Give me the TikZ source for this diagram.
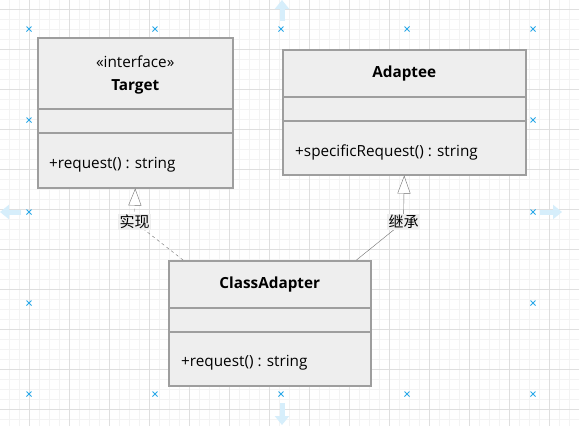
\documentclass[tikz,border=0pt]{standalone}
\usepackage{fontspec}
\setmainfont{Open Sans}
\newfontfamily\cjkfont{Noto Sans CJK SC}
\usepackage{xcolor}
\usepackage{tikz}
\usetikzlibrary{arrows.meta, calc}

\definecolor{boxfill}{HTML}{EEEEEE}
\definecolor{boxline}{HTML}{9E9E9E}
\definecolor{edgeline}{HTML}{6F6F6F}
\definecolor{gridminor}{HTML}{F3F3F3}
\definecolor{gridmajor}{HTML}{DFDFDF}
\definecolor{guide}{HTML}{29A8E8}
\definecolor{guidearrow}{HTML}{D6EEFB}

\begin{document}
\begin{tikzpicture}[x=1pt, y=-1pt,
  umlclass/.style={draw=boxline, fill=boxfill, line width=1.5pt, anchor=north west,
    minimum width=#1, inner sep=0pt},
  divider/.style={draw=boxline, line width=1.5pt},
  title/.style={font=\fontsize{15.3}{18}\selectfont\bfseries, inner sep=0pt},
  member/.style={font=\fontsize{15.3}{18}\selectfont, anchor=west, inner sep=0pt},
  edgelabel/.style={fill=boxfill, font=\cjkfont\fontsize{15}{17}\selectfont, inner sep=1.5pt},
  realize/.style={draw=edgeline, dashed, dash pattern=on 3pt off 3pt,
    -{Triangle[open, length=17pt, width=13pt, fill=white]}},
  inherit/.style={draw=edgeline, -{Triangle[open, length=18pt, width=13pt, fill=white]}},
  handle/.style={guide, line width=0.9pt},
  bigarrow/.style={guidearrow, line width=5pt, -{Triangle[length=9pt, width=14pt]}},
]
\useasboundingbox (0,0) rectangle (579,426);
\fill[white] (0,0) rectangle (579,426);

% grid
\foreach \x in {9,19,...,579} \draw[gridminor] (\x,0) -- (\x,426);
\foreach \y in {9,19,...,426} \draw[gridminor] (0,\y) -- (579,\y);
\foreach \x in {29,69,...,579} \draw[gridmajor] (\x,0) -- (\x,426);
\foreach \y in {9,49,...,426} \draw[gridmajor] (0,\y) -- (579,\y);

% guide handles and arrows
\foreach \x/\y in {29/29,155/29,281/29,407/29,533/29,29/120,533/120,29/212,533/212,
  29/303,533/303,29/394,155/394,281/394,407/394,533/394}
  \draw[handle] (\x-2.5,\y-2.5) -- (\x+2.5,\y+2.5) (\x-2.5,\y+2.5) -- (\x+2.5,\y-2.5);
\draw[bigarrow] (282,21) -- (282,0);
\draw[bigarrow] (282,403) -- (282,425);
\draw[bigarrow] (21,212) -- (0,212);
\draw[bigarrow] (540,212) -- (562,212);

% Target
\node[umlclass=195pt, minimum height=150pt] (target) at (37,37) {};
\draw[divider] ($(target.north west)+(0,72)$) -- ($(target.north east)+(0,72)$);
\draw[divider] ($(target.north west)+(0,96)$) -- ($(target.north east)+(0,96)$);
\node[member, anchor=center] (targetstereo) at ($(target.north)+(0,25)$) {«interface»};
\node[title] (targetname) at ($(target.north)+(0,50)$) {Target};
\node[member] (targetop) at ($(target.north west)+(12,128)$) {+request() : string};

% Adaptee
\node[umlclass=243pt, minimum height=125pt] (adaptee) at (282,49) {};
\draw[divider] ($(adaptee.north west)+(0,48)$) -- ($(adaptee.north east)+(0,48)$);
\draw[divider] ($(adaptee.north west)+(0,72)$) -- ($(adaptee.north east)+(0,72)$);
\node[title] (adapteename) at ($(adaptee.north)+(0,25)$) {Adaptee};
\node[member] (adapteeop) at ($(adaptee.north west)+(13,103)$) {+specificRequest() : string};

% ClassAdapter
\node[umlclass=202pt, minimum height=125pt] (adapter) at (168,260) {};
\draw[divider] ($(adapter.north west)+(0,48)$) -- ($(adapter.north east)+(0,48)$);
\draw[divider] ($(adapter.north west)+(0,72)$) -- ($(adapter.north east)+(0,72)$);
\node[title] (adaptername) at ($(adapter.north)+(0,25)$) {ClassAdapter};
\node[member] (adapterop) at ($(adapter.north west)+(13,103)$) {+request() : string};

% relations
\coordinate (implbend) at (134.5,222);
\coordinate (inhbend) at (403.5,222);
\draw[realize] ([xshift=15pt]adapter.north west) -- (implbend)
  node[edgelabel] (impl) {实现} -- (target.south);
\draw[inherit] ([xshift=-15pt]adapter.north east) -- (inhbend)
  node[edgelabel] (inh) {继承} -- (adaptee.south);
\end{tikzpicture}
\end{document}
